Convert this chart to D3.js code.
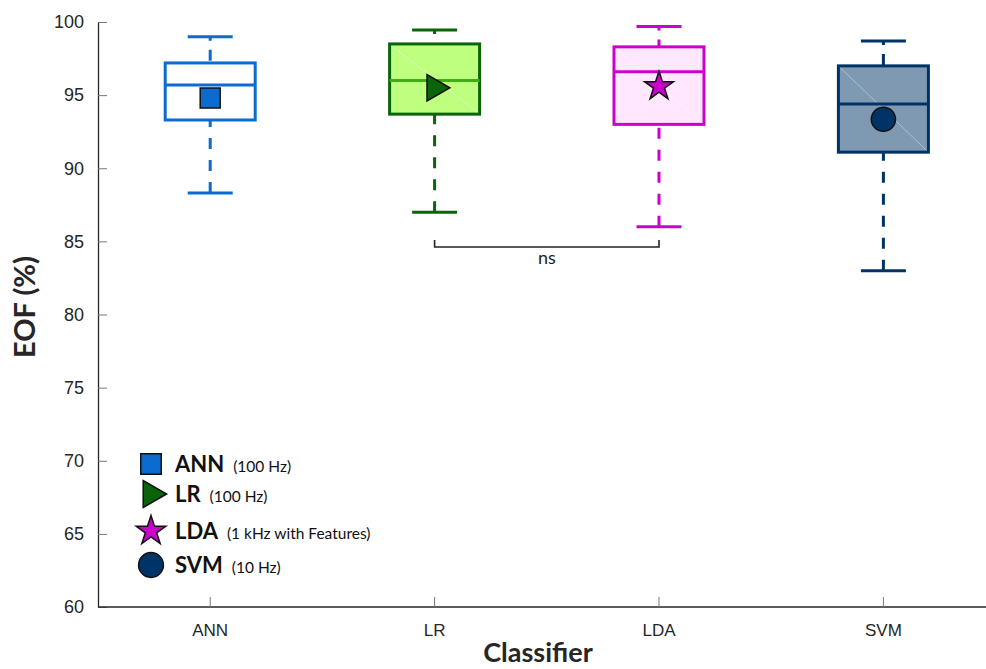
<!DOCTYPE html>
<html>
<head>
<meta charset="utf-8">
<script src="https://cdn.jsdelivr.net/npm/d3@7/dist/d3.min.js"></script>
<style>
  body { margin: 0; background: #fff; }
  svg { font-family: Lato, "Open Sans", sans-serif; }
</style>
</head>
<body>
<div id="vis"></div>
<script>

// data
var classifiers = ["ANN", "LR", "LDA", "SVM"]
var whiskLo  = [88.3, 87.0, 86.0, 83.0]
var q1       = [93.3, 93.7, 93.0, 91.1]
var medians  = [95.7, 96.0, 96.6, 94.4]
var q3       = [97.2, 98.5, 98.3, 97.0]
var whiskHi  = [99.0, 99.45, 99.7, 98.7]
var means    = [94.8, 95.5, 95.6, 93.35]
var yTicks   = [60, 65, 70, 75, 80, 85, 90, 95, 100]
var legendNotes = ["(100 Hz)", "(100 Hz)", "(1 kHz with Features)", "(10 Hz)"]
var sigPair = ["LR", "LDA"]
var sigLabel = "ns"

var strokeCol = ["#0b6bcf", "#0a640a", "#cc00cc", "#003366"]
var fillCol   = ["#ffffff", "#bfff80", "#ffe8ff", "#8099b3"]
var medianCol = ["#0b6bcf", "#3fae12", "#cc00cc", "#003366"]
var markerCol = ["#0b6bcf", "#0a640a", "#cc00cc", "#003366"]

var width = 986, height = 669
var mLeft = 98, mBottom = 607, mTop = 22

var svg = d3.select("#vis").append("svg")
  .attr("width", width)
  .attr("height", height)

var x = d3.scaleBand().domain(classifiers).range([mLeft, mLeft + 4 * 224.4])
var y = d3.scaleLinear().domain([60, 100]).range([mBottom, mTop])

var boxW = 90, capW = 45

// axes, ticks pointing inward
var yAxis = svg.append("g")
  .attr("transform", "translate(" + mLeft + ",0)")
  .call(d3.axisLeft(y).tickValues(yTicks).tickSizeInner(-9).tickSizeOuter(0).tickPadding(14))
yAxis.select(".domain").attr("stroke", "#262626").attr("stroke-width", 1.3)
yAxis.selectAll(".tick line").attr("stroke", "#777")
yAxis.selectAll("text").attr("font-size", 18).attr("fill", "#262626")

var xAxis = svg.append("g")
  .attr("transform", "translate(0," + mBottom + ")")
  .call(d3.axisBottom(x).tickSizeInner(-10).tickSizeOuter(0).tickPadding(17))
xAxis.select(".domain").attr("stroke", "#262626").attr("stroke-width", 1.3)
  .attr("d", "M" + mLeft + ",0H" + width)
xAxis.selectAll(".tick line").attr("stroke", "#777")
xAxis.selectAll("text").attr("font-size", 17).attr("fill", "#262626")

svg.append("text")
  .attr("x", 538).attr("y", 662)
  .attr("text-anchor", "middle")
  .attr("font-size", 27).attr("font-weight", "bold").attr("fill", "#262626")
  .text("Classifier")

svg.append("text")
  .attr("transform", "translate(35,307) rotate(-90)")
  .attr("text-anchor", "middle")
  .attr("font-size", 29).attr("font-weight", "bold").attr("fill", "#262626")
  .text("EOF (%)")

// boxes
var boxes = svg.append("g").selectAll("g")
  .data(classifiers)
  .join("g")
  .attr("transform", function(d) { return "translate(" + (x(d) + x.bandwidth() / 2) + ",0)" })

boxes.each(function(d, i) {
  var g = d3.select(this)
  var c = strokeCol[i]
  // whiskers, dashed, starting at the caps
  g.append("line").attr("x1", 0).attr("x2", 0)
    .attr("y1", y(whiskLo[i])).attr("y2", y(q1[i]))
    .attr("stroke", c).attr("stroke-width", 3).attr("stroke-dasharray", "11,11")
  g.append("line").attr("x1", 0).attr("x2", 0)
    .attr("y1", y(whiskHi[i])).attr("y2", y(q3[i]))
    .attr("stroke", c).attr("stroke-width", 3).attr("stroke-dasharray", "4,9,11,11")
  g.append("line").attr("x1", -capW / 2).attr("x2", capW / 2)
    .attr("y1", y(whiskLo[i])).attr("y2", y(whiskLo[i]))
    .attr("stroke", c).attr("stroke-width", 3)
  g.append("line").attr("x1", -capW / 2).attr("x2", capW / 2)
    .attr("y1", y(whiskHi[i])).attr("y2", y(whiskHi[i]))
    .attr("stroke", c).attr("stroke-width", 3)
  g.append("rect")
    .attr("x", -boxW / 2).attr("width", boxW)
    .attr("y", y(q3[i])).attr("height", y(q1[i]) - y(q3[i]))
    .attr("fill", fillCol[i]).attr("stroke", c).attr("stroke-width", 3)
  if (i > 0) {
    // faint diagonal rendering seam
    g.append("line")
      .attr("x1", -boxW / 2 + 2).attr("y1", y(q3[i]) + 2)
      .attr("x2", boxW / 2 - 2).attr("y2", y(q1[i]) - 2)
      .attr("stroke", "#fff").attr("stroke-opacity", 0.45).attr("stroke-width", 0.8)
  }
  g.append("line").attr("x1", -boxW / 2).attr("x2", boxW / 2)
    .attr("y1", y(medians[i])).attr("y2", y(medians[i]))
    .attr("stroke", medianCol[i]).attr("stroke-width", 3)
})

// mean markers
var shapes = [
  { type: d3.symbolSquare, size: 400, rot: 0 },
  { type: d3.symbolTriangle, size: 300, rot: 90 },
  { type: d3.symbolStar, size: 260, rot: 0 },
  { type: d3.symbolCircle, size: 460, rot: 0 }
]

boxes.append("path")
  .attr("d", function(d, i) { return d3.symbol().type(shapes[i].type).size(shapes[i].size)() })
  .attr("transform", function(d, i) { return "translate(0," + y(means[i]) + ") rotate(" + shapes[i].rot + ")" })
  .attr("fill", function(d, i) { return markerCol[i] })
  .attr("stroke", "#111").attr("stroke-width", 1.5)

// significance bracket
var bx1 = x(sigPair[0]) + x.bandwidth() / 2
var bx2 = x(sigPair[1]) + x.bandwidth() / 2
var by = 247
svg.append("path")
  .attr("d", "M" + bx1 + "," + (by - 7) + "V" + by + "H" + bx2 + "V" + (by - 7))
  .attr("fill", "none").attr("stroke", "#222").attr("stroke-width", 1.6)
svg.append("text")
  .attr("x", (bx1 + bx2) / 2).attr("y", 264)
  .attr("text-anchor", "middle").attr("font-size", 18).attr("fill", "#222")
  .text(sigLabel)

// legend
var legY = [464, 494, 531, 565]
var leg = svg.append("g").selectAll("g")
  .data(classifiers)
  .join("g")
  .attr("transform", function(d, i) { return "translate(151," + legY[i] + ")" })

leg.append("path")
  .attr("d", function(d, i) { return d3.symbol().type(shapes[i].type).size(shapes[i].size * 1.05)() })
  .attr("transform", function(d, i) { return "rotate(" + shapes[i].rot + ")" })
  .attr("fill", function(d, i) { return markerCol[i] })
  .attr("stroke", "#111").attr("stroke-width", 1.5)

var lt = leg.append("text")
  .attr("x", 24).attr("y", 8)
  .attr("fill", "#111")
lt.append("tspan")
  .attr("font-size", 22).attr("font-weight", "bold")
  .text(function(d) { return d })
lt.append("tspan")
  .attr("font-size", 15.5).attr("dx", 9)
  .text(function(d, i) { return legendNotes[i] })

</script>
</body>
</html>
